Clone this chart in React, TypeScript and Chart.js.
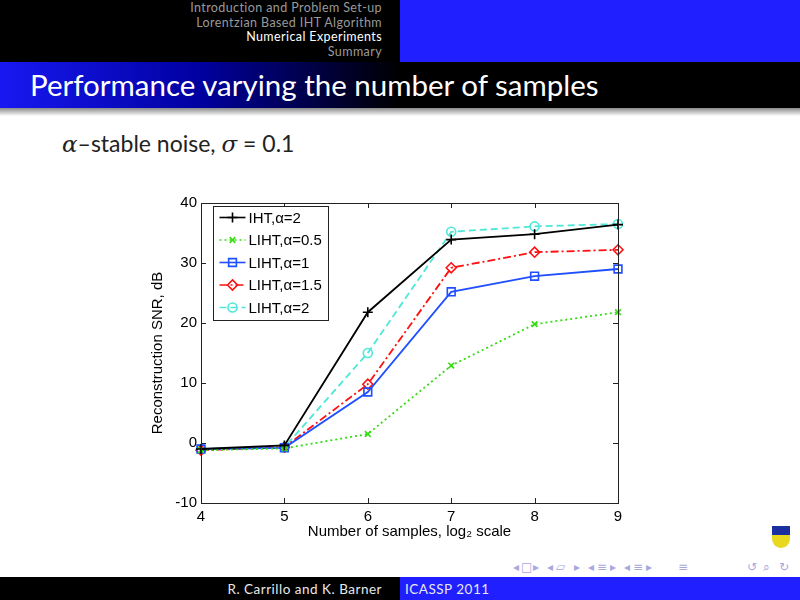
import React, { useEffect, useRef } from "react";
import { Chart, registerables } from "chart.js";
import { drawPoint } from "chart.js/helpers";

Chart.register(...registerables);

// ---------- data ----------
const samplesLog2 = [4, 5, 6, 7, 8, 9];
const ihtAlpha2 = [-1.0, -0.4, 21.8, 33.9, 34.8, 36.4];
const lihtAlpha05 = [-1.2, -0.9, 1.5, 12.9, 19.8, 21.8];
const lihtAlpha1 = [-1.0, -0.8, 8.5, 25.2, 27.8, 29.0];
const lihtAlpha15 = [-1.2, -0.7, 9.8, 29.2, 31.8, 32.2];
const lihtAlpha2 = [-1.0, -0.7, 15.0, 35.2, 36.1, 36.5];
const seriesLabels = ["IHT,α=2", "LIHT,α=0.5", "LIHT,α=1", "LIHT,α=1.5", "LIHT,α=2"];
const xTickValues = [4, 5, 6, 7, 8, 9];
const yTickValues = [-10, 0, 10, 20, 30, 40];
const xAxisTitle = "Number of samples, log₂ scale";
const yAxisTitle = "Reconstruction SNR, dB";

// ---------- styles ----------
const seriesValues = [ihtAlpha2, lihtAlpha05, lihtAlpha1, lihtAlpha15, lihtAlpha2];
const seriesStyle = [
  { color: "#000000", dash: [] as number[], marker: "cross", radius: 5 },
  { color: "#33dd11", dash: [2, 3], marker: "crossRot", radius: 4 },
  { color: "#1f4fff", dash: [] as number[], marker: "rect", radius: 5.5 },
  { color: "#ff1010", dash: [8, 3, 2, 3], marker: "rectRot", radius: 5 },
  { color: "#4ee8d8", dash: [7, 4], marker: "circle", radius: 4.5 },
];
const FONT = "'Liberation Sans', Arial, Helvetica, sans-serif";
const SLIDE_FONT = "Lato, 'DejaVu Sans', sans-serif";

const matlabAxes = {
  id: "matlabAxes",
  afterDatasetsDraw(chart: any) {
    const { ctx, chartArea: ca } = chart;
    const xs = chart.scales.x;
    const ys = chart.scales.y;
    ctx.save();
    ctx.strokeStyle = "#222";
    ctx.lineWidth = 1;
    ctx.setLineDash([]);
    ctx.strokeRect(Math.round(ca.left) + 0.5, Math.round(ca.top) + 0.5, Math.round(ca.width), Math.round(ca.height));
    const tl = 5;
    ctx.beginPath();
    xTickValues.forEach((v) => {
      const px = Math.round(xs.getPixelForValue(v)) + 0.5;
      ctx.moveTo(px, ca.bottom);
      ctx.lineTo(px, ca.bottom - tl);
      ctx.moveTo(px, ca.top);
      ctx.lineTo(px, ca.top + tl);
    });
    yTickValues.forEach((v) => {
      const py = Math.round(ys.getPixelForValue(v)) + 0.5;
      ctx.moveTo(ca.left, py);
      ctx.lineTo(ca.left + tl, py);
      ctx.moveTo(ca.right, py);
      ctx.lineTo(ca.right - tl, py);
    });
    ctx.stroke();

    // legend
    ctx.font = `15px ${FONT}`;
    const widths = seriesLabels.map((l) => ctx.measureText(l).width);
    const boxL = Math.round(ca.left + 12) + 0.5;
    const boxT = Math.round(ca.top + 3) + 0.5;
    const rowH = 22.5;
    const boxW = Math.round(36 + Math.max(...widths) + 6);
    const boxH = Math.round(11 + rowH * 4 + 13);
    ctx.fillStyle = "#fff";
    ctx.fillRect(boxL, boxT, boxW, boxH);
    ctx.strokeStyle = "#222";
    ctx.lineWidth = 1;
    ctx.strokeRect(boxL, boxT, boxW, boxH);
    seriesLabels.forEach((label, i) => {
      const st = seriesStyle[i];
      const cy = boxT + 11 + i * rowH;
      ctx.strokeStyle = st.color;
      ctx.lineWidth = 1.6;
      ctx.setLineDash(st.dash);
      ctx.beginPath();
      ctx.moveTo(boxL + 6, cy);
      ctx.lineTo(boxL + 32, cy);
      ctx.stroke();
      ctx.setLineDash([]);
      ctx.fillStyle = "rgba(0,0,0,0)";
      ctx.lineWidth = 1.6;
      drawPoint(ctx, { pointStyle: st.marker, radius: st.radius, rotation: 0, borderWidth: 1.6 } as any, boxL + 19, cy);
      ctx.fillStyle = "#000";
      ctx.textAlign = "left";
      ctx.textBaseline = "middle";
      ctx.fillText(label, boxL + 35, cy + 1);
    });
    ctx.restore();
  },
};

function SNRChart() {
  const ref = useRef<HTMLCanvasElement | null>(null);
  useEffect(() => {
    if (!ref.current) return;
    const datasets = seriesLabels.map((label, i) => ({
      label,
      data: samplesLog2.map((x, j) => ({ x, y: seriesValues[i][j] })),
      borderColor: seriesStyle[i].color,
      backgroundColor: "rgba(0,0,0,0)",
      borderWidth: 1.8,
      borderDash: seriesStyle[i].dash,
      pointStyle: seriesStyle[i].marker,
      pointRadius: seriesStyle[i].radius,
      pointBorderWidth: 1.6,
      pointBorderColor: seriesStyle[i].color,
      pointBackgroundColor: "rgba(0,0,0,0)",
      tension: 0,
      clip: false as any,
    }));
    const tickFont = { family: FONT, size: 15 };
    const chart = new Chart(ref.current, {
      type: "line",
      data: { datasets: datasets as any },
      options: {
        animation: false,
        responsive: false,
        maintainAspectRatio: false,
        layout: { padding: { top: 13, right: 32, left: 14, bottom: 7 } },
        plugins: { legend: { display: false }, tooltip: { enabled: false } },
        scales: {
          x: {
            type: "linear",
            min: 4,
            max: 9,
            grid: { display: false, drawTicks: false },
            border: { display: false },
            afterBuildTicks: (s: any) => {
              s.ticks = xTickValues.map((v) => ({ value: v }));
            },
            afterFit: (s: any) => {
              s.height = 40;
            },
            ticks: { color: "#000", font: tickFont, padding: 5, maxRotation: 0, autoSkip: false },
            title: { display: true, text: xAxisTitle, color: "#000", font: tickFont, padding: { top: 0, bottom: 2 } },
          },
          y: {
            type: "linear",
            min: -10,
            max: 40,
            grid: { display: false, drawTicks: false },
            border: { display: false },
            afterBuildTicks: (s: any) => {
              s.ticks = yTickValues.map((v) => ({ value: v }));
            },
            afterFit: (s: any) => {
              s.width = 57;
            },
            ticks: { color: "#000", font: tickFont, padding: 4, autoSkip: false },
            title: { display: true, text: yAxisTitle, color: "#000", font: tickFont, padding: { top: 5, bottom: 0 } },
          },
        },
      },
      plugins: [matlabAxes],
    });
    return () => chart.destroy();
  }, []);
  return (
    <canvas
      ref={ref}
      width={520}
      height={360}
      style={{ position: "absolute", left: 130, top: 190, width: 520, height: 360 }}
    />
  );
}

const navItems = [
  { text: "Introduction and Problem Set-up", active: false },
  { text: "Lorentzian Based IHT Algorithm", active: false },
  { text: "Numerical Experiments", active: true },
  { text: "Summary", active: false },
];

const navSymbols = [
  { s: "◂", x: 513 }, { s: "□", x: 521 }, { s: "▸", x: 533 },
  { s: "◂", x: 547 }, { s: "▱", x: 556 }, { s: "▸", x: 574 },
  { s: "◂", x: 588 }, { s: "≡", x: 597 }, { s: "▸", x: 610 },
  { s: "◂", x: 624 }, { s: "≡", x: 633 }, { s: "▸", x: 646 },
  { s: "≡", x: 678 },
  { s: "↺", x: 747 }, { s: "⌕", x: 763 }, { s: "↻", x: 779 },
];

export default function App() {
  return (
    <div
      style={{
        position: "absolute",
        left: 0,
        top: 0,
        width: 800,
        height: 600,
        background: "#fff",
        overflow: "hidden",
        fontFamily: SLIDE_FONT,
      }}
    >
      {/* header */}
      <div style={{ position: "absolute", left: 0, top: 0, width: 400, height: 62, background: "#000" }} />
      <div style={{ position: "absolute", left: 400, top: 0, width: 400, height: 62, background: "#1f1fff" }} />
      <div style={{ position: "absolute", right: 418, top: 1, textAlign: "right" }}>
        {navItems.map((n) => (
          <div
            key={n.text}
            style={{
              fontSize: 12.5,
              letterSpacing: 0.4,
              lineHeight: "14.5px",
              color: n.active ? "#fff" : "#9a9a9a",
              whiteSpace: "nowrap",
            }}
          >
            {n.text}
          </div>
        ))}
      </div>
      {/* title bar */}
      <div
        style={{
          position: "absolute",
          left: 0,
          top: 62,
          width: 800,
          height: 46,
          background: "linear-gradient(to right, #1818f2 0%, #0000a0 25%, #000 50%, #000 100%)",
        }}
      />
      <div
        style={{
          position: "absolute",
          left: 0,
          top: 108,
          width: 800,
          height: 8,
          background: "linear-gradient(to bottom, #8a8a8a, rgba(255,255,255,0))",
        }}
      />
      <div
        style={{
          position: "absolute",
          left: 30,
          top: 66,
          fontSize: 29.5,
          lineHeight: "38px",
          color: "#fff",
          whiteSpace: "nowrap",
        }}
      >
        Performance varying the number of samples
      </div>
      {/* subtitle */}
      <div
        style={{
          position: "absolute",
          left: 62,
          top: 128,
          fontSize: 23,
          lineHeight: "30px",
          color: "#222",
          whiteSpace: "nowrap",
        }}
      >
        <i style={{ fontFamily: "'DejaVu Serif', serif" }}>α</i>–stable noise,{" "}
        <i style={{ fontFamily: "'DejaVu Serif', serif" }}>σ</i> = 0.1
      </div>

      <SNRChart />

      {/* logo */}
      <div
        style={{
          position: "absolute",
          left: 772,
          top: 526,
          width: 18,
          height: 22,
          borderRadius: "0 0 9px 9px",
          background: "linear-gradient(to bottom, #1b2fa0 0%, #1b2fa0 40%, #e8d820 40%, #e8d820 100%)",
        }}
      />
      {/* nav symbols */}
      {navSymbols.map((n, i) => (
        <div
          key={i}
          style={{
            position: "absolute",
            left: n.x,
            top: 559,
            fontSize: 12,
            lineHeight: "16px",
            color: "#a8a8e0",
            fontFamily: "'DejaVu Sans', sans-serif",
          }}
        >
          {n.s}
        </div>
      ))}
      {/* footer */}
      <div style={{ position: "absolute", left: 0, top: 577, width: 400, height: 23, background: "#000" }} />
      <div style={{ position: "absolute", left: 400, top: 577, width: 400, height: 23, background: "#1f1fff" }} />
      <div
        style={{
          position: "absolute",
          right: 418,
          top: 579,
          fontSize: 13.5,
          letterSpacing: 0.5,
          lineHeight: "20px",
          color: "#e8e8e8",
          whiteSpace: "nowrap",
        }}
      >
        R. Carrillo and K. Barner
      </div>
      <div
        style={{
          position: "absolute",
          left: 405,
          top: 579,
          fontSize: 13.5,
          letterSpacing: 0.5,
          lineHeight: "20px",
          color: "#e8e8e8",
          whiteSpace: "nowrap",
        }}
      >
        ICASSP 2011
      </div>
    </div>
  );
}
